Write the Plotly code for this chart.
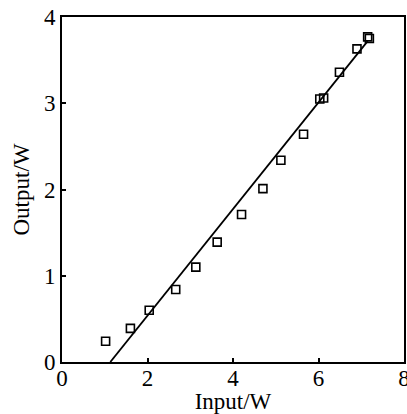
import plotly.graph_objects as go

# measured points (Input W, Output W)
input_w = [1.02, 1.6, 2.04, 2.66, 3.13, 3.63, 4.2, 4.7, 5.12, 5.65, 6.03, 6.12, 6.49, 6.9, 7.15, 7.19]
output_w = [0.24, 0.39, 0.6, 0.84, 1.1, 1.39, 1.71, 2.01, 2.34, 2.64, 3.05, 3.06, 3.36, 3.63, 3.77, 3.75]

# linear fit line endpoints
fit_x = [1.13, 7.15]
fit_y = [0.0, 3.72]

x_ticks = [0, 2, 4, 6, 8]
y_ticks = [0, 1, 2, 3, 4]

font = "Liberation Serif"

fig = go.Figure()
fig.add_trace(go.Scatter(x=fit_x, y=fit_y, mode="lines",
                         line=dict(color="black", width=1.8), showlegend=False))
fig.add_trace(go.Scatter(x=input_w, y=output_w, mode="markers",
                         marker=dict(symbol="square-open", size=8, color="black",
                                     line=dict(width=1.6, color="black")),
                         showlegend=False))

fig.update_layout(
    width=407, height=414,
    margin=dict(l=62, r=3, t=17, b=52),
    paper_bgcolor="white", plot_bgcolor="white",
    font=dict(family=font, color="black", size=24),
    xaxis=dict(range=[0, 8], tickvals=x_ticks, ticktext=[str(v) for v in x_ticks],
               showgrid=False, zeroline=False, showline=True, linecolor="black",
               linewidth=2, mirror=True, ticks="inside", ticklen=4, tickwidth=1.5,
               tickcolor="black", tickfont=dict(family=font, size=23),
               ticklabeloverflow="allow", automargin=False, ticklabelstandoff=-6,
               title=dict(text="Input/W", font=dict(family=font, size=23), standoff=8)),
    yaxis=dict(range=[0, 4], tickvals=y_ticks, ticktext=[str(v) for v in y_ticks],
               showgrid=False, zeroline=False, showline=True, linecolor="black",
               linewidth=2, mirror=True, ticks="inside", ticklen=4, tickwidth=1.5,
               tickcolor="black", tickfont=dict(family=font, size=23),
               ticklabeloverflow="allow", automargin=False,
               title=dict(text="Output/W", font=dict(family=font, size=23), standoff=8)),
)

fig.write_html("out.html")
